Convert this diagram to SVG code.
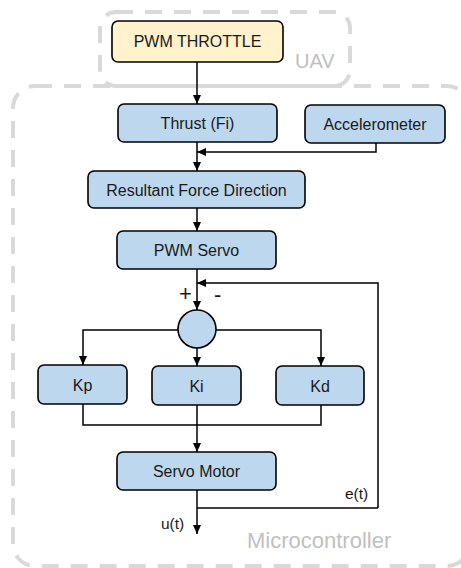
<svg xmlns="http://www.w3.org/2000/svg" width="461" height="568" viewBox="0 0 461 568">
<defs>
<marker id="ah" markerWidth="10" markerHeight="10" refX="9" refY="5" orient="auto" markerUnits="userSpaceOnUse">
<path d="M0,1 L9,5 L0,9 Z" fill="#000"/>
</marker>
<style>
.grp{fill:none;stroke:#D9D9D9;stroke-width:4;stroke-dasharray:17 12}
.glabel{font-family:"Liberation Sans",Arial,sans-serif;fill:#BFBFBF}
.box{fill:#BDD7EE;stroke:#000;stroke-width:1.6}
.ybox{fill:#FFF2CC;stroke:#000;stroke-width:1.6}
.t{font-family:"Liberation Sans",Arial,sans-serif;font-size:16px;fill:#1a1a1a;text-anchor:middle}
.c{fill:none;stroke:#000;stroke-width:1.5}
.ca{fill:none;stroke:#000;stroke-width:1.5;marker-end:url(#ah)}
.lbl{font-family:"Liberation Sans",Arial,sans-serif;fill:#1a1a1a}
</style>
</defs>
<g id="uav">
<rect class="grp" x="100" y="12" width="250" height="74" rx="16"/>
<text class="glabel" x="295" y="68" font-size="20">UAV</text>
</g>
<g id="microcontroller">
<rect class="grp" x="13" y="86" width="456" height="480" rx="22"/>
<text class="glabel" x="247" y="548" font-size="22">Microcontroller</text>
</g>
<g id="connectors">
<path class="ca" d="M197,62 V104"/>
<path class="ca" d="M197,142 V171"/>
<path class="ca" d="M376,143 V152 H197"/>
<path class="ca" d="M197,208 V231"/>
<path class="ca" d="M197,269 V310"/>
<path class="ca" d="M378,508 V283 H197"/>
<path class="ca" d="M178,330 H83 V365"/>
<path class="ca" d="M216,330 H321 V366"/>
<path class="ca" d="M197,348 V366"/>
<path class="c" d="M83,404 V425 H321 V405"/>
<path class="ca" d="M197,405 V452"/>
<path class="ca" d="M197,490 V534"/>
<path class="c" d="M197,508 H378"/>
<text class="lbl" x="179" y="301" font-size="22">+</text>
<text class="lbl" x="214" y="302" font-size="22">-</text>
<text class="lbl" x="345" y="499" font-size="15.5">e(t)</text>
<text class="lbl" x="161" y="529" font-size="15.5">u(t)</text>
</g>
<g id="pwm-throttle">
<rect class="ybox" x="112" y="21" width="171" height="41" rx="6"/>
<text class="t" x="197.5" y="47">PWM THROTTLE</text>
</g>
<g id="thrust">
<rect class="box" x="118" y="104" width="159" height="38" rx="6"/>
<text class="t" x="197.5" y="129">Thrust (Fi)</text>
</g>
<g id="accelerometer">
<rect class="box" x="305" y="105" width="140" height="38" rx="6"/>
<text class="t" x="375" y="130">Accelerometer</text>
</g>
<g id="resultant">
<rect class="box" x="88" y="171" width="217" height="37" rx="6"/>
<text class="t" x="196.5" y="195.5">Resultant Force Direction</text>
</g>
<g id="pwm-servo">
<rect class="box" x="117" y="231" width="159" height="38" rx="6"/>
<text class="t" x="196.5" y="255.5">PWM Servo</text>
</g>
<g id="sum">
<circle class="box" cx="197" cy="329" r="19"/>
</g>
<g id="kp">
<rect class="box" x="38" y="365" width="89" height="39" rx="6"/>
<text class="t" x="82.5" y="390.5">Kp</text>
</g>
<g id="ki">
<rect class="box" x="152" y="366" width="89" height="39" rx="6"/>
<text class="t" x="196.5" y="391.5">Ki</text>
</g>
<g id="kd">
<rect class="box" x="276" y="366" width="88" height="39" rx="6"/>
<text class="t" x="320" y="391.5">Kd</text>
</g>
<g id="servo-motor">
<rect class="box" x="117" y="452" width="159" height="38" rx="6"/>
<text class="t" x="196.5" y="476.5">Servo Motor</text>
</g>
</svg>
